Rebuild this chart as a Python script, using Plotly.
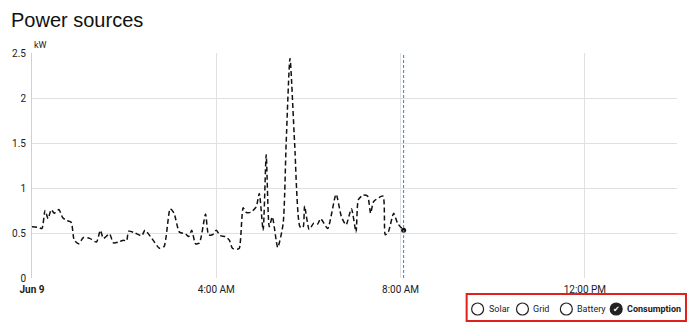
import plotly.graph_objects as go

DAY = "2023-06-09 "

times = ["00:00", "00:09", "00:13", "00:17", "00:21", "00:25", "00:29", "00:35", "00:40", "00:45",
         "00:51", "00:55", "01:01", "01:07", "01:15", "01:24", "01:29", "01:33", "01:41", "01:46",
         "01:53", "01:59", "02:03", "02:06", "02:14", "02:23", "02:27", "02:36", "02:46", "02:52",
         "03:00", "03:05", "03:12", "03:20", "03:24", "03:28", "03:33", "03:38", "03:46", "03:50",
         "03:55", "04:00", "04:05", "04:12", "04:17", "04:21", "04:27", "04:30", "04:35", "04:39",
         "04:45", "04:52", "04:56", "05:01", "05:05", "05:09", "05:13", "05:20", "05:27", "05:31",
         "05:36", "05:42", "05:49", "05:53", "05:55", "06:01", "06:07", "06:12", "06:16", "06:25",
         "06:36", "06:43", "06:49", "06:56", "07:02", "07:05", "07:11", "07:17", "07:21", "07:25",
         "07:37", "07:40", "07:44", "07:51", "07:56", "08:04"]

consumption = [0.57, 0.56, 0.55, 0.75, 0.66, 0.76, 0.72, 0.76, 0.67, 0.64,
               0.62, 0.42, 0.38, 0.45, 0.44, 0.40, 0.53, 0.44, 0.49, 0.39,
               0.40, 0.42, 0.41, 0.52, 0.50, 0.47, 0.53, 0.44, 0.33, 0.35,
               0.77, 0.72, 0.51, 0.49, 0.46, 0.53, 0.38, 0.39, 0.71, 0.48,
               0.48, 0.53, 0.47, 0.46, 0.42, 0.33, 0.32, 0.33, 0.78, 0.73,
               0.73, 0.79, 0.94, 0.53, 1.37, 0.57, 0.68, 0.34, 0.60, 1.50,
               2.44, 1.50, 0.57, 0.56, 0.80, 0.54, 0.61, 0.60, 0.66, 0.55,
               0.93, 0.68, 0.59, 0.77, 0.51, 0.87, 0.92, 0.91, 0.72, 0.85,
               0.91, 0.48, 0.51, 0.72, 0.61, 0.53]

tick_times = ["00:00", "04:00", "08:00", "12:00"]
tick_labels = ["<b>Jun 9</b>", "4:00 AM", "8:00 AM", "12:00 PM"]
y_ticks = [0, 0.5, 1, 1.5, 2, 2.5]
y_labels = ["0", "0.5", "1", "1.5", "2", "2.5"]

legend_items = ["Solar", "Grid", "Battery", "Consumption"]
legend_active = [False, False, False, True]

W, H = 690, 324
PL, PR, PT, PB = 30, 677, 53, 278  # plot area in pixels


def fx(xp):
    return (xp - PL) / (PR - PL)


def fy(yp):
    return (PB - yp) / (PB - PT)


x = [DAY + t for t in times]

fig = go.Figure()
fig.add_trace(go.Scatter(
    x=x, y=consumption, mode="lines",
    line=dict(color="#111111", width=1.5, dash="5px,3px", shape="spline", smoothing=0.6),
    showlegend=False, hoverinfo="skip"))
fig.add_trace(go.Scatter(
    x=[x[-1]], y=[consumption[-1]], mode="markers",
    marker=dict(color="#111111", size=5), showlegend=False, hoverinfo="skip"))

fig.add_shape(type="line", xref="x", yref="paper", x0=x[-1], x1=x[-1], y0=0, y1=1.0,
              line=dict(color="#1e88e5", width=1, dash="3px,2px"))

fig.update_layout(
    width=W, height=H,
    margin=dict(l=PL, r=W - PR, t=PT, b=H - PB),
    plot_bgcolor="white", paper_bgcolor="white",
    font=dict(family="Roboto", size=10, color="#212121"),
    xaxis=dict(range=[DAY + "00:00", DAY + "14:00"], tickvals=[DAY + t for t in tick_times],
               ticktext=tick_labels, showgrid=True, gridcolor="#e0e0e0", gridwidth=1,
               zeroline=False, showline=False, ticks="", ticklabelstandoff=4,
               tickfont=dict(size=10, color="#212121")),
    yaxis=dict(range=[0, 2.5], tickvals=y_ticks, ticktext=y_labels,
               showgrid=True, gridcolor="#e0e0e0", zeroline=False, showline=True,
               linecolor="#d0d0d0", ticks="", ticklabelstandoff=3,
               tickfont=dict(size=10, color="#212121")),
)

fig.add_annotation(text="Power sources", xref="paper", yref="paper", x=fx(7), y=fy(20),
                   xanchor="left", yanchor="middle", showarrow=False,
                   font=dict(family="Liberation Sans", size=20, color="#111111"))
fig.add_annotation(text="kW", xref="paper", yref="paper", x=fx(30), y=fy(45),
                   xanchor="left", yanchor="middle", showarrow=False,
                   font=dict(family="Roboto", size=9, color="#212121"))

# Custom legend (toggle style)
cx_list = [477, 522, 566, 616]
cy = 309
r = 6
for cxp, label, act in zip(cx_list, legend_items, legend_active):
    fig.add_shape(type="circle", xref="paper", yref="paper",
                  x0=fx(cxp - r), x1=fx(cxp + r), y0=fy(cy + r), y1=fy(cy - r),
                  line=dict(color="#212121", width=1.2),
                  fillcolor="#212121" if act else "rgba(0,0,0,0)")
    fig.add_annotation(text=("<b>%s</b>" % label) if act else label, xref="paper", yref="paper",
                       x=fx(cxp + r + 3), y=fy(cy), xanchor="left", yanchor="middle",
                       showarrow=False, font=dict(family="Roboto", size=9, color="#212121"))
    if act:
        fig.add_annotation(text="✔", xref="paper", yref="paper", x=fx(cxp), y=fy(cy),
                           xanchor="center", yanchor="middle", showarrow=False,
                           font=dict(family="DejaVu Sans", size=8, color="white"))

fig.add_shape(type="rect", xref="paper", yref="paper",
              x0=fx(466), x1=fx(686), y0=fy(321), y1=fy(294),
              line=dict(color="#e0201c", width=2))

fig.write_html("out.html")
